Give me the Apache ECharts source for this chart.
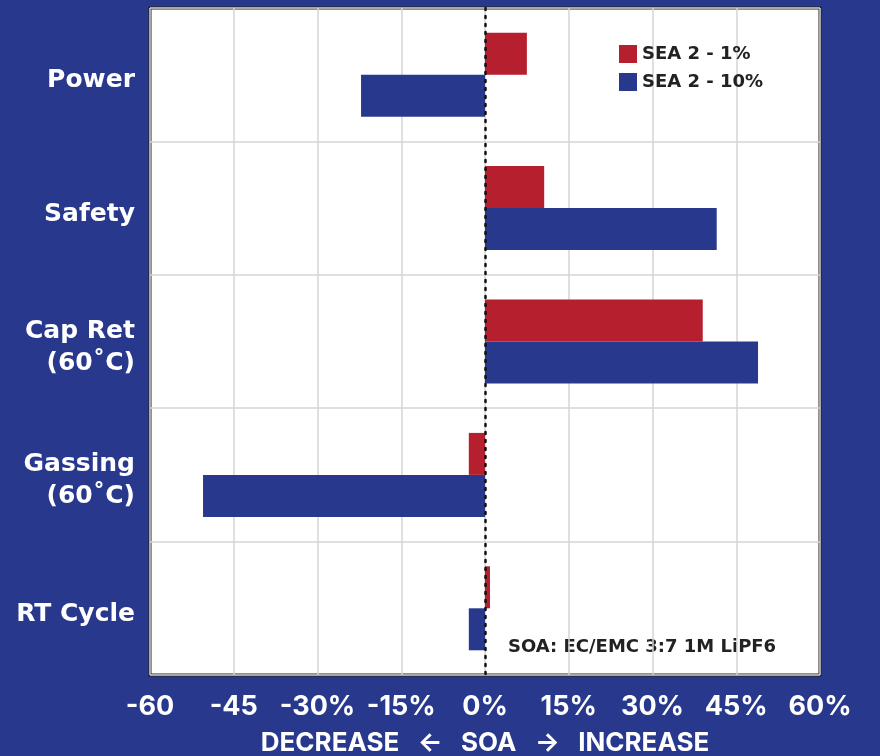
<!DOCTYPE html>
<html>
<head>
<meta charset="utf-8">
<script src="https://cdn.jsdelivr.net/npm/echarts@6/dist/echarts.min.js"></script>
<style>
  html, body { margin: 0; padding: 0; background: #28398d; }
  #main { width: 880px; height: 756px; }
</style>
</head>
<body>
<div id="main"></div>
<script>
var categories = ['Power', 'Safety', 'Cap Ret\n(60˚C)', 'Gassing\n(60˚C)', 'RT Cycle']
var sea1 = [7.5, 10.6, 39, -2.9, 0.9]
var sea10 = [-22.2, 41.5, 48.9, -50.5, -2.9]
var tickLabels = ['-60', '-45', '-30%', '-15%', '0%', '15%', '30%', '45%', '60%']

var myChart = echarts.init(document.getElementById('main'))

var option = {
  backgroundColor: '#28398d',
  textStyle: { fontFamily: 'Inter, "Open Sans", sans-serif' },
  grid: {
    left: 150, right: 60, top: 8, bottom: 81,
    outerBoundsMode: 'none',
    show: true,
    backgroundColor: '#ffffff',
    borderColor: '#222222',
    borderWidth: 3
  },
  legend: {
    orient: 'vertical',
    left: 619, top: 45,
    padding: 0,
    itemWidth: 18, itemHeight: 18, itemGap: 10,
    icon: 'rect',
    textStyle: { color: '#222222', fontSize: 18, fontWeight: 'bold', fontFamily: '"DejaVu Sans", sans-serif' },
    data: ['SEA 2 - 1%', 'SEA 2 - 10%']
  },
  xAxis: {
    type: 'value',
    min: -60, max: 60, interval: 15,
    axisLine: { show: false },
    axisTick: { show: false },
    splitLine: { lineStyle: { color: '#d4d4d4', width: 1.5 } },
    axisLabel: {
      color: '#ffffff', fontSize: 27, fontWeight: 'bold', margin: 18,
      formatter: function (v) { return tickLabels[Math.round((v + 60) / 15)] }
    },
    name: 'DECREASE   ←   SOA   →   INCREASE',
    nameLocation: 'middle',
    nameGap: 55,
    nameTextStyle: { color: '#ffffff', fontSize: 26, fontWeight: 'bold' }
  },
  yAxis: {
    type: 'category',
    inverse: true,
    data: categories,
    axisLine: { show: false },
    axisTick: { show: false },
    splitLine: { show: true, lineStyle: { color: '#d4d4d4', width: 1.5 } },
    axisLabel: {
      margin: 15,
      align: 'right',
      formatter: function (v) {
        return v.split('\n').map(function (l) { return '{a|' + l + '}' }).join('\n')
      },
      rich: {
        a: {
          color: '#ffffff', fontSize: 25, fontWeight: 'bold',
          fontFamily: '"DejaVu Sans", sans-serif',
          lineHeight: 32, padding: [12, 0, 0, 0], align: 'right'
        }
      }
    }
  },
  graphic: [{
    type: 'text',
    left: 508, top: 638,
    style: { text: 'SOA: EC/EMC 3:7 1M LiPF6', fill: '#222222', fontSize: 18, fontWeight: 'bold', fontFamily: '"DejaVu Sans", sans-serif' }
  }],
  series: [
    {
      name: 'SEA 2 - 1%',
      type: 'bar',
      data: sea1,
      barWidth: 42,
      barGap: '0%',
      itemStyle: { color: '#b51f2e' },
      markLine: {
        silent: true,
        symbol: 'none',
        label: { show: false },
        lineStyle: { color: '#111111', type: [2, 6], width: 2.5, cap: 'round' },
        data: [{ xAxis: 0 }]
      }
    },
    {
      name: 'SEA 2 - 10%',
      type: 'bar',
      data: sea10,
      barWidth: 42,
      barGap: '0%',
      itemStyle: { color: '#28398d' }
    }
  ]
}

myChart.setOption(option)
</script>
</body>
</html>
